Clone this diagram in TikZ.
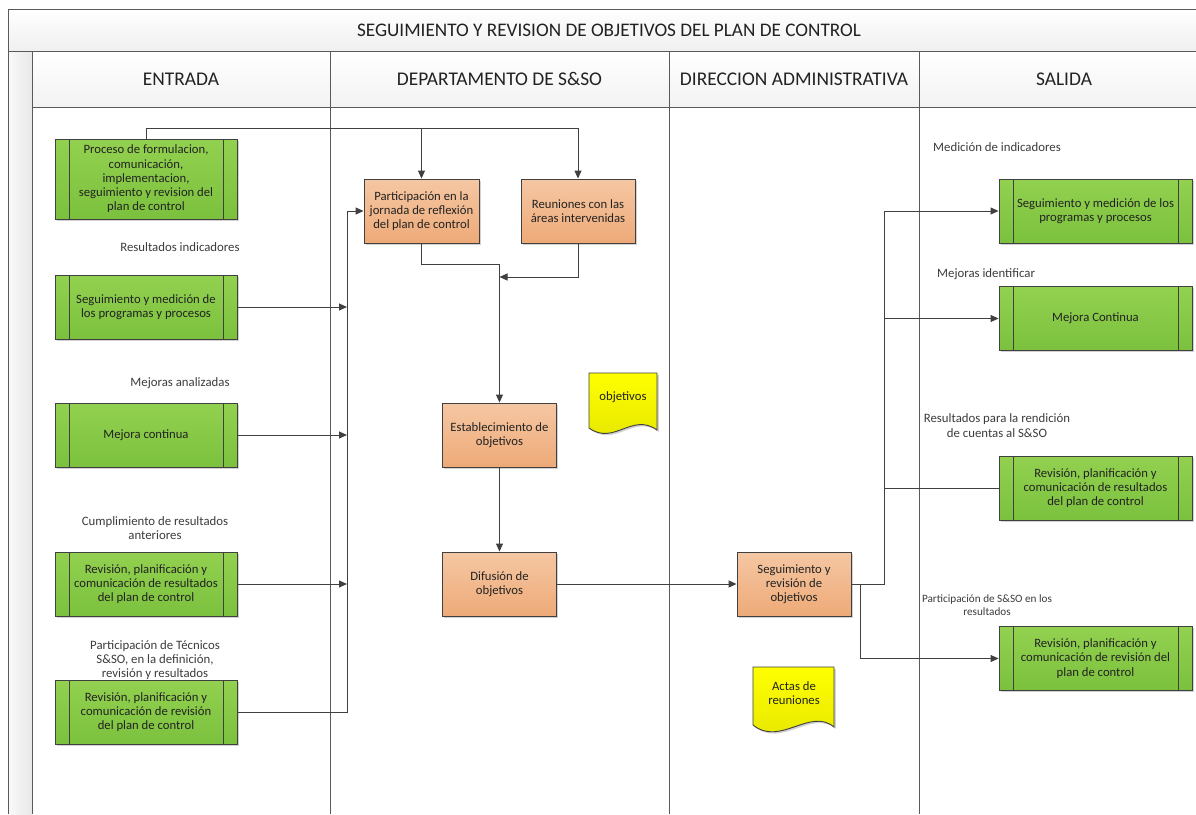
\documentclass[tikz,border=0pt]{standalone}
\usepackage{fontspec}
\setmainfont{Carlito}
\usetikzlibrary{arrows.meta,shadows}
\definecolor{lc}{HTML}{404040}
\definecolor{frm}{HTML}{5A5A5A}
\definecolor{gtop}{HTML}{93D150}
\definecolor{gbot}{HTML}{7BC13E}
\definecolor{otop}{HTML}{F5C7A3}
\definecolor{obot}{HTML}{EEAA78}
\definecolor{ytop}{HTML}{FFFF00}
\definecolor{ybot}{HTML}{E5E500}
\definecolor{txt}{HTML}{222222}
\definecolor{lbl}{HTML}{3C3C3C}
\begin{document}
\begin{tikzpicture}[x=1pt,y=-1pt,
  box/.style={draw=lc, line width=0.9pt, align=center, inner sep=0pt, text=txt,
    font=\fontsize{12.7}{14.2}\selectfont,
    drop shadow={shadow xshift=1.8pt, shadow yshift=-1.8pt, fill=black, opacity=0.18}},
  subproc/.style={box, top color=gtop, bottom color=gbot, minimum width=182pt, minimum height=64pt,
    path picture={\draw[lc, line width=0.9pt]
      ([xshift=14pt]path picture bounding box.north west) -- ([xshift=14pt]path picture bounding box.south west)
      ([xshift=-14pt]path picture bounding box.north east) -- ([xshift=-14pt]path picture bounding box.south east);}},
  outproc/.style={subproc, minimum width=193pt},
  proc/.style={box, top color=otop, bottom color=obot, minimum width=114pt, minimum height=64pt},
  lab/.style={text=lbl, font=\fontsize{12.8}{14.2}\selectfont, align=center, inner sep=0pt},
  smlab/.style={lab, font=\fontsize{11.2}{12.4}\selectfont},
  hdr/.style={text=txt, font=\fontsize{19.4}{22}\selectfont, inner sep=0pt},
  ttl/.style={text=txt, font=\fontsize{19.2}{22}\selectfont, inner sep=0pt},
  doctext/.style={text=txt, font=\fontsize{12.7}{14.2}\selectfont, align=center, inner sep=0pt},
  docshape/.style={draw=lc, line width=0.9pt, top color=ytop, bottom color=ybot,
    drop shadow={shadow xshift=1.8pt, shadow yshift=-1.8pt, fill=black, opacity=0.18}},
  conn/.style={draw=lc, line width=0.9pt},
  arr/.style={conn, -{Triangle[length=8pt,width=7pt]}},
  frame/.style={draw=frm, line width=0.9pt}
]
\useasboundingbox (0,0) rectangle (1196,814);
\fill[white] (0,0) rectangle (1196,814);
% bands
\shade[top color=white, bottom color=black!6] (8,9) rectangle (1196,51);
\shade[top color=white, bottom color=black!5] (32,51) rectangle (1196,107);
\shade[left color=black!2, right color=black!9] (8,51) rectangle (32,814);
% frame lines
\draw[frame] (1196,9) -- (8,9) -- (8,814);
\draw[frame] (8,51) -- (1196,51);
\draw[frame] (32,51) -- (32,814);
\draw[frame] (32,107) -- (1196,107);
\draw[frame] (330,51) -- (330,814);
\draw[frame] (669,51) -- (669,814);
\draw[frame] (919,51) -- (919,814);
% titles
\node[ttl] (title) at (609,30) {SEGUIMIENTO Y REVISION DE OBJETIVOS DEL PLAN DE CONTROL};
\node[hdr] (h1) at (181,79) {ENTRADA};
\node[hdr] (h2) at (499.5,79) {DEPARTAMENTO DE S\&SO};
\node[hdr] (h3) at (794,79) {DIRECCION ADMINISTRATIVA};
\node[hdr] (h4) at (1064,79) {SALIDA};
% ENTRADA
\node[subproc, minimum height=80pt] (P1) at (146,179) {Proceso de formulacion,\\comunicación,\\implementacion,\\seguimiento y revision del\\plan de control};
\node[lab] (L1) at (180,247) {Resultados indicadores};
\node[subproc] (P2) at (146,307) {Seguimiento y medición de\\los programas y procesos};
\node[lab] (L2) at (180,383) {Mejoras analizadas};
\node[subproc] (P3) at (146,435) {Mejora continua};
\node[lab] (L3) at (155,528) {Cumplimiento de resultados\\anteriores};
\node[subproc] (P4) at (146,584) {Revisión, planificación y\\comunicación de resultados\\del plan de control};
\node[lab] (L4) at (155,660) {Participación de Técnicos\\S\&SO, en la definición,\\revisión y resultados};
\node[subproc] (P5) at (146,712) {Revisión, planificación y\\comunicación de revisión\\del plan de control};
% DEPARTAMENTO
\node[proc, minimum width=115pt] (D1) at (421.5,211) {Participación en la\\jornada de reflexión\\del plan de control};
\node[proc] (D2) at (578,211) {Reuniones con las\\áreas intervenidas};
\node[proc] (D3) at (499.5,435) {Establecimiento de\\objetivos};
\node[proc] (D4) at (499.5,584) {Difusión de\\objetivos};
\shadedraw[docshape] (589,373) -- (657,373) -- (657,430) .. controls (632,412) and (614,446) .. (589,428) -- cycle;
\node[doctext] (objd) at (623,397) {objetivos};
% DIRECCION
\node[proc] (A1) at (794,584) {Seguimiento y\\revisión de\\objetivos};
\shadedraw[docshape] (753,667) -- (834,667) -- (834,727) .. controls (810,707) and (780,747) .. (753,725) -- cycle;
\node[doctext] (actas) at (794,693) {Actas de\\reuniones};
% SALIDA
\node[lab, anchor=west] (M1) at (933,147) {Medición de indicadores};
\node[outproc] (S1) at (1095.5,211) {Seguimiento y medición de los\\programas y procesos};
\node[lab, anchor=west] (M2) at (937,274) {Mejoras identificar};
\node[outproc] (S2) at (1095.5,318.5) {Mejora Continua};
\node[lab] (M3) at (997,425.5) {Resultados para la rendición\\de cuentas al S\&SO};
\node[outproc] (S3) at (1095.5,488) {Revisión, planificación y\\comunicación de resultados\\del plan de control};
\node[smlab] (M4) at (987,605) {Participación de S\&SO en los\\resultados};
\node[outproc] (S4) at (1095.5,658.5) {Revisión, planificación y\\comunicación de revisión del\\plan de control};
% connectors
\coordinate (bus) at (347,0);
\coordinate (topl) at (0,128);
\coordinate (jn) at (0,277);
\coordinate (sbus) at (884,0);
\coordinate (sbustwo) at (860,0);
\draw[arr] (P1.north) |- (D2.north |- topl) -- (D2.north);
\draw[arr] (D1.north |- topl) -- (D1.north);
\draw[arr] (P5.east) -- (P5.east -| bus) |- (D1.west);
\draw[arr] (P2.east) -- (P2.east -| bus);
\draw[arr] (P3.east) -- (P3.east -| bus);
\draw[arr] (P4.east) -- (P4.east -| bus);
\draw[arr] (D1.south) -- ++(0,21) -| (D3.north);
\draw[arr] (D2.south) |- (D3.north |- jn);
\draw[arr] (D3.south) -- (D4.north);
\draw[arr] (D4.east) -- (A1.west);
\draw[arr] (A1.east) -- (A1.east -| sbus) |- (S1.west);
\draw[arr] (S2.west -| sbus) -- (S2.west);
\draw[conn] (S3.west -| sbus) -- (S3.west);
\draw[arr] (A1.east -| sbustwo) |- (S4.west);
\end{tikzpicture}
\end{document}
